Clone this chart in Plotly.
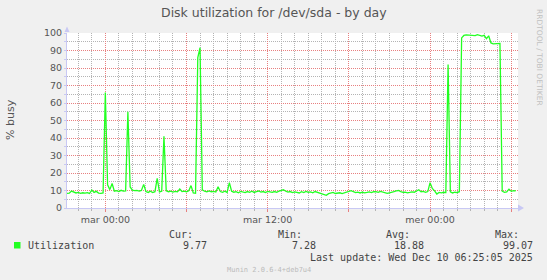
import plotly.graph_objects as go
import pandas as pd

# ---------------- data ----------------
start_time = "2025-12-08 21:10"
step_minutes = 10
utilization = [
    8.3, 8.5, 9.7, 9.0, 8.6, 8.9, 8.4, 8.7, 8.5, 8.8,
    8.3, 10.3, 8.9, 9.5, 8.5, 8.4, 8.6, 66.0, 13.2, 10.5,
    14.0, 9.6, 9.9, 9.4, 10.1, 9.6, 9.8, 55.0, 12.0, 10.2,
    9.9, 10.1, 9.7, 10.0, 13.5, 9.4, 8.9, 9.6, 8.8, 9.3,
    17.0, 9.2, 9.6, 41.0, 9.8, 9.3, 9.6, 9.1, 9.5, 9.2,
    10.8, 9.4, 9.6, 9.2, 9.9, 12.8, 8.6, 8.4, 86.0, 91.6,
    10.4, 9.6, 9.2, 9.8, 9.3, 9.5, 9.1, 12.2, 9.4, 9.0,
    9.6, 8.9, 14.5, 9.6, 9.0, 9.3, 8.7, 9.5, 9.1, 8.8,
    9.4, 9.0, 9.6, 8.9, 9.3, 9.7, 9.1, 9.4, 8.8, 9.5,
    9.2, 8.9, 9.4, 9.0, 9.6, 9.9, 10.4, 9.6, 9.1, 9.4,
    8.8, 9.2, 9.0, 8.6, 9.3, 8.8, 9.5, 8.9, 9.2, 8.7,
    9.4, 9.0, 8.6, 8.3, 7.9, 7.28, 8.2, 8.6, 8.9, 8.3,
    8.5, 8.7, 8.2, 8.6, 8.9, 9.4, 9.9, 9.3, 8.8, 9.1,
    8.6, 9.0, 8.7, 8.9, 9.2, 8.8, 9.4, 9.3, 8.9, 9.5,
    9.0, 8.6, 8.4, 8.7, 8.9, 9.3, 9.8, 10.0, 9.4, 8.9,
    9.1, 8.7, 8.9, 9.2, 9.0, 9.6, 10.4, 9.3, 9.5, 9.0,
    9.4, 14.5, 11.2, 9.8, 8.0, 8.9, 8.7, 9.0, 8.8, 82.0,
    9.2, 8.6, 9.0, 8.8, 9.3, 97.2, 98.6, 98.9, 98.7, 98.8,
    98.3, 98.5, 99.07, 98.6, 98.2, 98.7, 96.8, 98.4, 94.3, 93.8,
    94.0, 93.9, 94.1, 9.6, 8.9, 9.2, 10.8, 9.5, 9.9, 9.77,
]
times = pd.date_range(start=start_time, periods=len(utilization), freq=f"{step_minutes}min")

x_range = ["2025-12-08 21:10", "2025-12-10 06:30"]
major_ticks = ["2025-12-09 00:00", "2025-12-09 06:00", "2025-12-09 12:00",
               "2025-12-09 18:00", "2025-12-10 00:00", "2025-12-10 06:00"]
major_labels = ["mar 00:00", "", "mar 12:00", "", "mer 00:00", ""]
y_ticks = [0, 10, 20, 30, 40, 50, 60, 70, 80, 90, 100]

series_name = "Utilization"
stat_cur, stat_min, stat_avg, stat_max = "9.77", "7.28", "18.88", "99.07"
title_text = "Disk utilization for /dev/sda - by day"
y_title = "% busy"
last_update = "Last update: Wed Dec 10 06:25:05 2025"
footer = "Munin 2.0.6-4+deb7u4"
side_text = "RRDTOOL / TOBI OETIKER"

# ---------------- layout helpers ----------------
W, H = 547, 280
L, R, T, B = 67, 518, 33, 208
PW, PH = R - L, B - T

def px(x):
    return (x - L) / PW

def py(y):
    return (B - y) / PH

GREEN = "#22FF22"
TEXT = "#444444"
AXIS = "#C8C8F4"
MAJOR = "#E88080"
MINOR = "#B4B4B4"

fig = go.Figure()
fig.add_trace(go.Scatter(x=times, y=utilization, mode="lines",
                         line=dict(color=GREEN, width=1.3),
                         showlegend=False, hoverinfo="skip"))

fig.update_layout(
    width=W, height=H,
    margin=dict(l=L, r=W - R, t=T, b=H - B, pad=0),
    paper_bgcolor="#F0F0F0", plot_bgcolor="#FFFFFF",
    showlegend=False,
    font=dict(family="DejaVu Sans", size=9, color="#555555"),
)

fig.update_xaxes(
    type="date", range=x_range,
    tickmode="array", tickvals=major_ticks, ticktext=major_labels,
    showgrid=True, gridcolor=MAJOR, griddash="1px,1px", gridwidth=1,
    ticks="outside", ticklen=3, tickcolor=MAJOR,
    showline=True, linecolor=AXIS, linewidth=1,
    zeroline=False,
    tickfont=dict(family="DejaVu Sans", size=9.5, color="#555555"),
    minor=dict(dtick=3600000, tick0="2025-12-09 00:00", showgrid=True,
               gridcolor=MINOR, griddash="1px,1px", gridwidth=1,
               ticks="outside", ticklen=2, tickcolor=MINOR),
)
fig.update_yaxes(
    range=[0, 100], tickmode="array", tickvals=y_ticks,
    showgrid=True, gridcolor=MAJOR, griddash="1px,1px", gridwidth=1,
    ticks="outside", ticklen=2, tickcolor=AXIS,
    showline=True, linecolor=AXIS, linewidth=1,
    zeroline=False,
    tickfont=dict(family="DejaVu Sans", size=9.5, color="#555555"),
    minor=dict(dtick=5, tick0=0, showgrid=True, gridcolor=MINOR,
               griddash="1px,1px", gridwidth=1,
               ticks="outside", ticklen=2, tickcolor=AXIS),
)

shapes = [
    # arrow heads of the axes
    dict(type="path", xref="paper", yref="paper",
         path=f"M {px(64.5)},{py(32)} L {px(69.5)},{py(32)} L {px(67)},{py(26.5)} Z",
         fillcolor=AXIS, line=dict(width=0)),
    dict(type="path", xref="paper", yref="paper",
         path=f"M {px(518)},{py(204.5)} L {px(518)},{py(211.5)} L {px(524)},{py(208)} Z",
         fillcolor=AXIS, line=dict(width=0)),
    # legend swatch
    dict(type="rect", xref="paper", yref="paper",
         x0=px(14), x1=px(20.5), y0=py(248.5), y1=py(242),
         fillcolor=GREEN, line=dict(width=0)),
]
fig.update_layout(shapes=shapes)

mono = "DejaVu Sans Mono"

def ann(text, x, y, xanchor="left", size=10, family=mono, color=TEXT, angle=0):
    return dict(text=text, x=px(x), y=py(y), xref="paper", yref="paper",
                xanchor=xanchor, yanchor="middle", showarrow=False,
                textangle=angle, font=dict(family=family, size=size, color=color),
                borderpad=0)

annotations = [
    ann(title_text, 273.5, 13, "center", 12.5, "DejaVu Sans", "#555555"),
    ann(y_title, 10, 120, "center", 11, "DejaVu Sans", "#555555", -90),
    ann(side_text, 540, 57, "center", 7.5, "DejaVu Sans", "#C0C0C0", 90),
    ann(series_name, 26.5, 245.5),
    ann("Cur:", 193.5, 234, "right"),
    ann(stat_cur, 207.5, 245.5, "right"),
    ann("Min:", 302.5, 234, "right"),
    ann(stat_min, 317, 245.5, "right"),
    ann("Avg:", 410.5, 234, "right"),
    ann(stat_avg, 424.5, 245.5, "right"),
    ann("Max:", 519.5, 234, "right"),
    ann(stat_max, 533.5, 245.5, "right"),
    ann(last_update, 533.5, 257.5, "right"),
    ann(footer, 269, 270, "center", 7, mono, "#BBBBBB"),
]
fig.update_layout(annotations=annotations)

fig.write_html("out.html")
